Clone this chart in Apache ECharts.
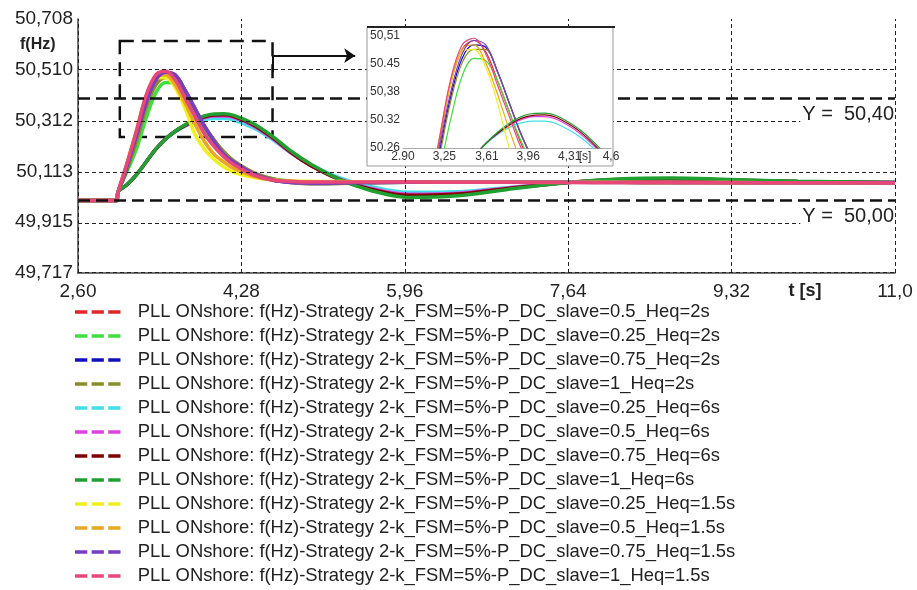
<!DOCTYPE html>
<html>
<head>
<meta charset="utf-8">
<script src="https://cdn.jsdelivr.net/npm/echarts@6/dist/echarts.min.js"></script>
<style>
  html, body { margin: 0; background: #fff; }
  #chart { width: 917px; height: 590px; }
</style>
</head>
<body>
<div id="chart"></div>
<script>
// time base (s)
var t = [2.60, 3.00, 3.01, 3.10, 3.20, 3.30, 3.40, 3.50, 3.60, 3.70, 3.80, 3.90, 4.00, 4.10, 4.20,
         4.40, 4.60, 4.80, 5.00, 5.30, 5.60, 6.00, 6.50, 7.00, 7.64, 8.20, 8.70, 9.30, 10.00, 11.00];

// f(Hz) per case
var red       = [50.00,50.00,50.03,50.13,50.26,50.40,50.48,50.50,50.475,50.41,50.34,50.27,50.215,50.175,50.145,50.10,50.08,50.073,50.071,50.072,50.073,50.073,50.072,50.071,50.071,50.071,50.070,50.070,50.069,50.069];
var lightGreen= [50.00,50.00,50.03,50.11,50.20,50.32,50.42,50.46,50.455,50.41,50.34,50.275,50.22,50.18,50.15,50.105,50.085,50.075,50.07,50.07,50.071,50.072,50.072,50.071,50.071,50.071,50.070,50.070,50.069,50.069];
var blue      = [50.00,50.00,50.03,50.12,50.24,50.37,50.46,50.49,50.485,50.43,50.36,50.29,50.235,50.185,50.15,50.105,50.08,50.07,50.066,50.067,50.069,50.071,50.071,50.071,50.071,50.071,50.070,50.070,50.069,50.069];
var olive     = [50.00,50.00,50.03,50.12,50.23,50.36,50.45,50.48,50.48,50.43,50.36,50.29,50.235,50.19,50.155,50.11,50.085,50.07,50.065,50.066,50.069,50.071,50.072,50.072,50.071,50.071,50.071,50.070,50.069,50.069];
var cyan      = [50.00,50.00,50.033,50.06,50.10,50.15,50.20,50.24,50.268,50.29,50.306,50.316,50.32,50.32,50.314,50.284,50.238,50.183,50.137,50.087,50.055,50.032,50.034,50.05,50.07,50.08,50.082,50.078,50.073,50.07];
var magenta   = [50.00,50.00,50.033,50.06,50.10,50.15,50.20,50.24,50.27,50.292,50.31,50.323,50.33,50.33,50.324,50.292,50.242,50.183,50.135,50.082,50.048,50.024,50.028,50.048,50.07,50.082,50.084,50.079,50.074,50.07];
var darkRed   = [50.00,50.00,50.033,50.06,50.10,50.15,50.20,50.24,50.27,50.293,50.312,50.326,50.333,50.334,50.328,50.296,50.245,50.185,50.135,50.08,50.045,50.02,50.025,50.046,50.07,50.083,50.085,50.08,50.074,50.07];
var green     = [50.00,50.00,50.033,50.06,50.10,50.15,50.20,50.24,50.27,50.295,50.315,50.33,50.337,50.338,50.332,50.30,50.25,50.19,50.14,50.08,50.04,50.012,50.018,50.042,50.07,50.085,50.088,50.082,50.075,50.07];
var yellow    = [50.00,50.00,50.03,50.14,50.27,50.40,50.475,50.48,50.44,50.36,50.26,50.20,50.16,50.13,50.11,50.09,50.08,50.076,50.075,50.074,50.073,50.073,50.072,50.072,50.071,50.071,50.070,50.070,50.069,50.069];
var orange    = [50.00,50.00,50.03,50.14,50.27,50.405,50.48,50.49,50.45,50.38,50.30,50.23,50.18,50.15,50.125,50.095,50.08,50.075,50.073,50.073,50.072,50.072,50.072,50.071,50.071,50.070,50.070,50.070,50.069,50.069];
var purple    = [50.00,50.00,50.03,50.13,50.25,50.38,50.47,50.50,50.49,50.43,50.36,50.29,50.23,50.18,50.15,50.105,50.08,50.07,50.067,50.068,50.07,50.071,50.071,50.071,50.071,50.070,50.070,50.070,50.069,50.069];
var pink      = [50.00,50.00,50.03,50.14,50.27,50.41,50.49,50.505,50.47,50.40,50.33,50.26,50.21,50.17,50.14,50.10,50.08,50.074,50.072,50.072,50.072,50.072,50.071,50.071,50.070,50.070,50.070,50.069,50.069,50.068];

var seriesValues = [red, lightGreen, blue, olive, cyan, magenta, darkRed, green, yellow, orange, purple, pink];
var seriesColors = ['#e02828', '#3ee03e', '#1010c0', '#8c8c28', '#40e0e8', '#e040e0', '#800000', '#20a030', '#f0f020', '#e8a820', '#7a3cc0', '#e84878'];
var pre = 'PLL ONshore: f(Hz)-Strategy 2-k_FSM=5%-P_DC_slave=';
var seriesNames = [pre + '0.5_Heq=2s', pre + '0.25_Heq=2s', pre + '0.75_Heq=2s', pre + '1_Heq=2s',
                   pre + '0.25_Heq=6s', pre + '0.5_Heq=6s', pre + '0.75_Heq=6s', pre + '1_Heq=6s',
                   pre + '0.25_Heq=1.5s', pre + '0.5_Heq=1.5s', pre + '0.75_Heq=1.5s', pre + '1_Heq=1.5s'];

// axes
var xTicks = [2.60, 4.28, 5.96, 7.64, 9.32, 11.0];
var xTickLabels = ['2,60', '4,28', '5,96', '7,64', '9,32', '11,0'];
var yTicks = [49.717, 49.915, 50.113, 50.312, 50.510, 50.708];
var refLines = [50.40, 50.00];
var refLabels = ['Y =  50,40', 'Y =  50,00'];
// zoom box [t0, f0, t1, f1]
var zoomBox = [3.03, 50.622, 4.60, 50.248];

// inset axes
var insetXTicks = [2.90, 3.25, 3.61, 3.96, 4.31, 4.66];
var insetXLabels = ['2.90', '3,25', '3,61', '3,96', '4,31', '4,6'];
var insetYTicks = [50.26, 50.3225, 50.385, 50.4475, 50.51];
var insetYLabels = ['50.26', '50.32', '50,38', '50.45', '50,51'];

function pick(ticks, labels, v) {
    for (var i = 0; i < ticks.length; i++) {
        if (Math.abs(ticks[i] - v) < 1e-6) return labels[i];
    }
    return '';
}
function pairs(vals) {
    return t.map(function (x, i) { return [x, vals[i]]; });
}

var chart = echarts.init(document.getElementById('chart'));
var FONT = 'Liberation Sans';

var series = [];

// grid lines + reference lines + zoom box (main)
series.push({
    type: 'line', data: [], xAxisIndex: 0, yAxisIndex: 0, z: 1, silent: true,
    markLine: {
        silent: true, symbol: ['none', 'none'], label: {show: false},
        lineStyle: {color: '#222', type: [4, 3], width: 1},
        data: yTicks.map(function (v) { return {yAxis: v}; })
            .concat(xTicks.map(function (v) { return {xAxis: v}; }))
    }
});
series.push({
    type: 'line', data: [], xAxisIndex: 0, yAxisIndex: 0, z: 2, silent: true,
    markLine: {
        silent: true, symbol: ['none', 'none'], label: {show: false},
        lineStyle: {color: '#111', type: [12, 6], width: 2.5},
        data: refLines.map(function (v) { return {yAxis: v}; })
    },
    markArea: {
        silent: true, label: {show: false},
        itemStyle: {color: 'rgba(0,0,0,0)', borderColor: '#111', borderWidth: 2.5, borderType: [14, 8]},
        data: [[{coord: [zoomBox[0], zoomBox[1]]}, {coord: [zoomBox[2], zoomBox[3]]}]]
    }
});
series.push({
    type: 'line', data: [], xAxisIndex: 0, yAxisIndex: 0, z: 8, silent: true,
    markLine: {
        silent: true, symbol: ['none', 'none'], symbolSize: 11, label: {show: false},
        lineStyle: {color: '#111', type: 'solid', width: 2},
        data: [
            [{coord: [zoomBox[2], 50.50]}, {coord: [zoomBox[2], 50.565]}],
            [{coord: [zoomBox[2], 50.565], symbol: 'none'}, {coord: [5.45, 50.565], symbol: 'arrow'}]
        ]
    }
});

// main curves
seriesValues.forEach(function (vals, i) {
    series.push({
        type: 'line', name: seriesNames[i], data: pairs(vals),
        xAxisIndex: 0, yAxisIndex: 0, z: 3,
        symbol: 'none', smooth: 0.35,
        lineStyle: {color: seriesColors[i], width: 3.5},
        itemStyle: {color: seriesColors[i]}
    });
});

// inset grid lines
series.push({
    type: 'line', data: [], xAxisIndex: 1, yAxisIndex: 1, z: 11, silent: true,
    markLine: {
        silent: true, symbol: ['none', 'none'], label: {show: false},
        lineStyle: {color: '#bbb', type: 'solid', width: 1},
        data: [{xAxis: 3.61}, {xAxis: 4.31}, {yAxis: 50.51}, {yAxis: 50.40},
               {yAxis: 50.385, lineStyle: {color: '#333', width: 1}}]
    }
});
// inset curves
seriesValues.forEach(function (vals, i) {
    series.push({
        type: 'line', name: seriesNames[i], data: pairs(vals),
        xAxisIndex: 1, yAxisIndex: 1, z: 12, clip: true,
        symbol: 'none', smooth: 0.35,
        lineStyle: {color: seriesColors[i], width: 1.2},
        itemStyle: {color: seriesColors[i]}
    });
});

var option = {
    animation: false,
    backgroundColor: '#fff',
    textStyle: {fontFamily: FONT},
    grid: [
        {left: 78, right: 22, top: 19, bottom: 317},
        {left: 403, top: 36, width: 208, height: 112}
    ],
    xAxis: [
        {
            type: 'value', gridIndex: 0, min: 2.60, max: 11.0,
            axisLine: {show: true, lineStyle: {color: '#444', width: 1.5}},
            axisTick: {show: false}, splitLine: {show: false},
            axisLabel: {
                customValues: xTicks, fontSize: 19, color: '#222', margin: 9, fontFamily: FONT,
                formatter: function (v) { return pick(xTicks, xTickLabels, v); }
            }
        },
        {
            type: 'value', gridIndex: 1, min: 2.90, max: 4.66, z: 12,
            axisLine: {show: true, onZero: false, lineStyle: {color: '#aaa', width: 1}},
            axisTick: {show: false}, splitLine: {show: false},
            axisLabel: {
                customValues: insetXTicks, fontSize: 12, color: '#333', margin: 3, fontFamily: FONT,
                formatter: function (v) { return pick(insetXTicks, insetXLabels, v); }
            }
        }
    ],
    yAxis: [
        {
            type: 'value', gridIndex: 0, min: 49.717, max: 50.708,
            axisLine: {show: true, lineStyle: {color: '#444', width: 1.5}},
            axisTick: {show: false}, splitLine: {show: false},
            axisLabel: {
                customValues: yTicks, fontSize: 19, color: '#222', margin: 5, fontFamily: FONT,
                formatter: function (v) { return v.toFixed(3).replace('.', ','); }
            }
        },
        {
            type: 'value', gridIndex: 1, min: 50.26, max: 50.51, z: 12,
            axisLine: {show: false}, axisTick: {show: false}, splitLine: {show: false},
            axisLabel: {
                customValues: insetYTicks, fontSize: 12, color: '#333', margin: 33, align: 'left', fontFamily: FONT,
                formatter: function (v) { return pick(insetYTicks, insetYLabels, v); }
            }
        }
    ],
    legend: {
        orient: 'vertical', left: 75, top: 303, padding: 0,
        itemWidth: 52, itemHeight: 3.5, itemGap: 6,
        icon: 'path://M0,0h14v4h-14zM19,0h14v4h-14zM38,0h14v4h-14z',
        data: seriesNames,
        textStyle: {fontSize: 18.4, color: '#222', fontFamily: FONT, padding: [0, 0, 0, 9]}
    },
    graphic: [
        {id: 'insetBox', type: 'rect', z: 10, silent: true, shape: {x: 367, y: 27, width: 246, height: 139},
         style: {fill: '#fff', stroke: '#999', lineWidth: 1}},
        {id: 'insetTop', type: 'line', z: 11, silent: true, shape: {x1: 367, y1: 27, x2: 615, y2: 27},
         style: {stroke: '#222', lineWidth: 2}},
        {id: 'insetUnit', type: 'text', z: 13, silent: true, x: 585, y: 157,
         style: {text: '[s]', fill: '#333', font: '12px ' + FONT, align: 'center', verticalAlign: 'middle'}},
        {id: 'yName', type: 'text', z: 5, silent: true, x: 20, y: 45,
         style: {text: 'f(Hz)', fill: '#222', font: 'bold 16px ' + FONT, align: 'left', verticalAlign: 'middle'}},
        {id: 'xName', type: 'text', z: 5, silent: true, x: 805, y: 291,
         style: {text: 't [s]', fill: '#222', font: 'bold 18px ' + FONT, align: 'center', verticalAlign: 'middle'}}
    ],
    series: series
};
chart.setOption(option);

// "Y = ..." tags sit on the grid line just below each reference line
var tagA = chart.convertToPixel({gridIndex: 0}, [11.0, yTicks[3]]);
var tagB = chart.convertToPixel({gridIndex: 0}, [11.0, yTicks[1]]);
chart.setOption({
    graphic: [
        {id: 'tagA', type: 'text', z: 6, silent: true, x: tagA[0] - 1, y: tagA[1] + 4,
         style: {text: refLabels[0], fill: '#222', font: '20px ' + FONT, align: 'right', verticalAlign: 'bottom',
                 backgroundColor: '#fff', padding: [0, 0, 0, 2]}},
        {id: 'tagB', type: 'text', z: 6, silent: true, x: tagB[0] - 1, y: tagB[1] + 4,
         style: {text: refLabels[1], fill: '#222', font: '20px ' + FONT, align: 'right', verticalAlign: 'bottom',
                 backgroundColor: '#fff', padding: [0, 0, 0, 2]}}
    ]
});
</script>
</body>
</html>
